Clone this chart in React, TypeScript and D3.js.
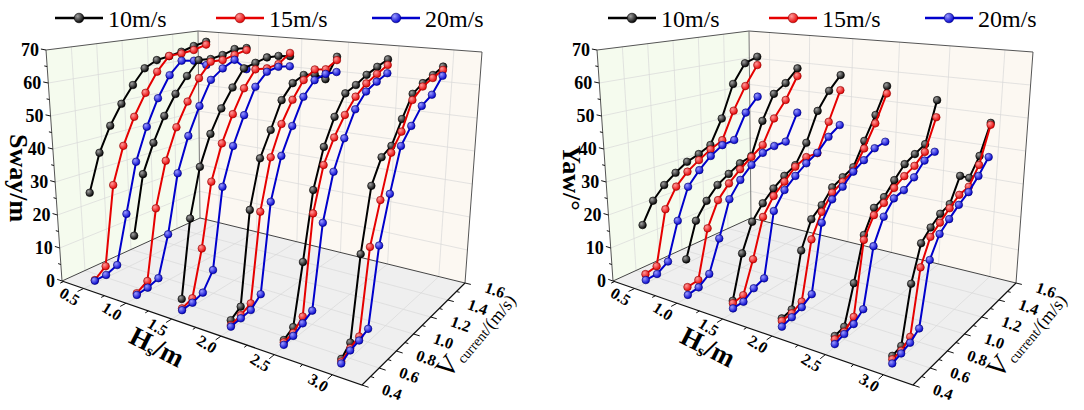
import React from "react";
import * as d3 from "d3";

// ---------------- data ----------------
const HS_LEVELS = [0.5, 1.0, 1.5, 2.0, 2.5, 3.0];
const V_CURRENT = [0.5, 0.6, 0.7, 0.8, 0.9, 1.0, 1.1, 1.2, 1.3, 1.4, 1.5];
const WIND_LABELS = ["10m/s", "15m/s", "20m/s"];

const HS_TICKS = [0.5, 1.0, 1.5, 2.0, 2.5, 3.0];
const HS_TICK_LABELS = ["0.5", "1.0", "1.5", "2.0", "2.5", "3.0"];
const V_TICKS = [0.4, 0.6, 0.8, 1.0, 1.2, 1.4, 1.6];
const V_TICK_LABELS = ["0.4", "0.6", "0.8", "1.0", "1.2", "1.4", "1.6"];
const Z_TICKS = [0, 10, 20, 30, 40, 50, 60, 70];
const Z_TICK_LABELS = ["0", "10", "20", "30", "40", "50", "60", "70"];

// Sway (m): one row per Hs level, one value per current speed
const SWAY_10 = [
  [27.4, 38.5, 45.9, 51.9, 57.1, 61.8, 63.8, 64.4, 65.2, 66.5, 67.3],
  [18.2, 35.2, 43.5, 50.7, 56.6, 61.4, 65.7, 65.2, 65.7, 66.9, 66.4],
  [3.9, 25.6, 39.4, 48.0, 54.6, 60.0, 65.0, 65.8, 66.6, 66.1, 65.0],
  [2.5, 4.4, 30.3, 43.8, 50.8, 58.5, 62.5, 63.9, 63.0, 60.2, 66.3],
  [1.9, 3.4, 19.5, 38.0, 48.8, 56.1, 61.7, 62.9, 64.7, 65.9, 67.0],
  [2.0, 4.2, 25.9, 42.7, 49.0, 50.6, 56.7, 62.5, 64.2, 65.2, 66.3],
];
const SWAY_15 = [
  [0.9, 3.5, 27.3, 38.5, 46.8, 53.7, 59.9, 64.5, 64.6, 65.1, 66.3],
  [1.2, 3.1, 23.5, 36.8, 46.1, 53.2, 59.8, 64.3, 64.0, 64.9, 65.7],
  [1.2, 2.3, 15.2, 33.6, 43.9, 51.7, 58.7, 63.7, 63.0, 63.4, 66.1],
  [1.1, 2.0, 3.4, 28.2, 42.7, 51.3, 57.4, 62.3, 64.5, 63.4, 65.2],
  [1.3, 1.8, 4.3, 31.4, 43.6, 50.1, 55.3, 59.4, 62.1, 63.7, 65.2],
  [1.3, 2.7, 3.7, 26.0, 37.1, 48.7, 53.1, 60.7, 63.2, 64.3, 65.3],
];
const SWAY_20 = [
  [0.7, 0.8, 2.2, 16.8, 32.2, 42.5, 51.0, 57.9, 62.1, 61.3, 58.9],
  [0.7, 1.1, 2.2, 14.0, 31.6, 42.2, 50.7, 58.3, 61.2, 63.2, 59.0],
  [0.7, 1.0, 2.1, 7.0, 30.6, 41.8, 50.2, 58.1, 61.9, 62.5, 61.6],
  [0.7, 1.1, 1.5, 4.1, 29.5, 41.7, 49.4, 57.1, 61.1, 61.9, 61.3],
  [0.6, 1.0, 2.4, 3.9, 27.0, 40.1, 48.4, 55.6, 59.6, 61.3, 62.6],
  [0.8, 2.1, 2.6, 3.6, 24.5, 37.1, 49.0, 53.2, 57.5, 59.3, 63.5],
];

// Yaw (deg)
const YAW_10 = [
  [17.6, 23.7, 27.3, 29.9, 32.2, 33.5, 35.3, 43.1, 54.0, 60.4, 61.9],
  [11.2, 21.2, 25.8, 29.3, 31.4, 33.4, 34.4, 44.7, 52.6, 55.2, 59.3],
  [3.4, 15.4, 23.1, 27.1, 30.1, 32.5, 34.4, 40.1, 49.1, 54.5, 58.6],
  [3.0, 3.6, 18.6, 26.0, 28.5, 32.2, 33.7, 35.2, 41.9, 48.7, 56.7],
  [3.0, 3.5, 13.6, 25.3, 31.3, 32.7, 36.0, 39.1, 40.5, 41.9, 54.1],
  [2.8, 3.3, 17.9, 27.0, 29.5, 31.5, 32.4, 38.7, 36.3, 41.0, 49.2],
];
const YAW_15 = [
  [2.7, 3.5, 19.7, 25.5, 29.0, 31.5, 33.8, 35.7, 44.7, 52.3, 58.9],
  [3.0, 3.4, 17.4, 24.6, 28.4, 31.5, 34.1, 36.7, 44.3, 49.4, 56.6],
  [2.7, 3.2, 12.0, 23.0, 27.8, 30.7, 33.9, 35.5, 35.3, 44.2, 53.5],
  [2.3, 2.5, 3.9, 20.1, 26.5, 30.6, 32.3, 34.1, 39.5, 46.0, 54.3],
  [2.1, 2.1, 4.2, 23.9, 29.2, 31.0, 33.7, 35.5, 36.9, 39.5, 48.7],
  [1.9, 2.0, 3.6, 20.4, 26.9, 29.0, 31.2, 33.2, 33.7, 38.3, 48.6],
];
const YAW_20 = [
  [0.9, 1.1, 3.3, 14.6, 24.1, 28.2, 31.6, 34.0, 34.5, 42.9, 47.5],
  [0.7, 1.2, 3.5, 12.7, 23.4, 28.1, 31.5, 34.1, 35.0, 35.1, 43.8],
  [1.2, 1.3, 3.4, 4.5, 23.2, 28.1, 31.0, 33.5, 35.4, 39.2, 41.7],
  [0.7, 1.4, 2.3, 4.1, 23.3, 28.6, 30.8, 33.8, 35.8, 38.0, 38.5],
  [0.8, 1.5, 2.2, 4.3, 20.3, 27.0, 30.6, 31.3, 33.4, 36.8, 37.8],
  [0.8, 1.3, 2.0, 3.7, 20.5, 25.8, 28.1, 30.3, 32.1, 35.0, 38.8],
];

// ---------------- styles ----------------
const COLORS = ["#000000", "#e60000", "#0000cc"];
const HIGHLIGHTS = ["#a0a0a0", "#ff9a9a", "#9a9aff"];
const DARKS = ["#000000", "#8a0000", "#00006e"];
const FONT = "Liberation Serif";

// ---------------- 3D box projection ----------------
const L = [62, 281];
const F = [362, 385];
const R = [465, 283];
const B = [200, 218];
const EL = [-16, -231];
const EF = [3, -275];
const ER = [17, -231];
const EB = [-2, -187];

const sScale = d3.scaleLinear().domain([0.23, 3.24]).range([0, 1]);
const K = 0.79;
const uOf = (hs: number) => {
  const s = sScale(hs);
  return (K * s) / (1 + (K - 1) * s);
};
const vScale = d3.scaleLinear().domain([0.4, 1.6]).range([0, 1]);
const zScale = d3.scaleLinear().domain([0, 70]).range([0, 1]);

function proj(u: number, v: number, w: number, dx: number): [number, number] {
  const bl = (a: number, b: number, c: number, d: number) =>
    (1 - u) * (1 - v) * a + u * (1 - v) * b + u * v * c + (1 - u) * v * d;
  const x = bl(L[0], F[0], R[0], B[0]) + w * bl(EL[0], EF[0], ER[0], EB[0]) + dx;
  const y = bl(L[1], F[1], R[1], B[1]) + w * bl(EL[1], EF[1], ER[1], EB[1]);
  return [x, y];
}

const poly = (pts: [number, number][]) => pts.map((p) => p.join(",")).join(" ");

function Panel({ dx, series, title, legendDx, prefix }: any) {
  const P = (u: number, v: number, w: number) => proj(u, v, w, dx);
  const line = d3.line<[number, number]>();
  const grid = "#d9d9d9";
  const gw = 0.7;
  const tf = { fontFamily: FONT };

  const leftWall = poly([P(0, 0, 0), P(0, 1, 0), P(0, 1, 1), P(0, 0, 1)]);
  const backWall = poly([P(0, 1, 0), P(1, 1, 0), P(1, 1, 1), P(0, 1, 1)]);
  const floor = poly([P(0, 0, 0), P(1, 0, 0), P(1, 1, 0), P(0, 1, 0)]);

  const gridLines: [number, number][][] = [];
  Z_TICKS.slice(1, -1).forEach((z) => {
    const w = zScale(z);
    gridLines.push([P(0, 0, w), P(0, 1, w), P(1, 1, w)]);
  });
  V_TICKS.slice(1, -1).forEach((vv) => {
    const v = vScale(vv);
    gridLines.push([P(0, v, 0), P(0, v, 1)]);
    gridLines.push([P(0, v, 0), P(1, v, 0)]);
  });
  HS_TICKS.forEach((h) => {
    const u = uOf(h);
    gridLines.push([P(u, 0, 0), P(u, 1, 0), P(u, 1, 1)]);
  });

  const hsMinor = d3.range(0.25, 3.3, 0.25).filter((h) => uOf(h) >= 0 && uOf(h) <= 1);
  const vMinor = d3.range(0.4, 1.61, 0.1);
  const zMinor = d3.range(0, 70.1, 5);

  return (
    <g>
      <defs>
        {COLORS.map((c, i) => (
          <radialGradient key={i} id={`${prefix}g${i}`} cx="35%" cy="32%" r="70%">
            <stop offset="0%" stopColor={HIGHLIGHTS[i]} />
            <stop offset="100%" stopColor={c} />
          </radialGradient>
        ))}
      </defs>
      <polygon points={leftWall} fill="#f5fbee" />
      <polygon points={backWall} fill="#fcf8f2" />
      <polygon points={floor} fill="#efefef" />
      {gridLines.map((g, i) => (
        <path key={i} d={line(g) || ""} fill="none" stroke={grid} strokeWidth={gw} />
      ))}
      {/* box edges */}
      <path d={line([P(0, 0, 0), P(0, 0, 1), P(0, 1, 1), P(1, 1, 1), P(1, 1, 0)]) || ""} fill="none" stroke="#555" strokeWidth={1} />
      <path d={line([P(0, 1, 0), P(0, 1, 1)]) || ""} fill="none" stroke="#777" strokeWidth={1} />
      <path d={line([P(0, 0, 0), P(0, 1, 0), P(1, 1, 0)]) || ""} fill="none" stroke="#444" strokeWidth={1} />
      <path d={line([P(0, 0, 0), P(1, 0, 0), P(1, 1, 0)]) || ""} fill="none" stroke="#111" strokeWidth={1.2} />

      {/* Hs axis ticks */}
      {hsMinor.map((h, i) => {
        const u = uOf(h);
        const major = Math.abs(h * 2 - Math.round(h * 2)) < 1e-6;
        const a = P(u, 0, 0);
        const b = P(u, major ? -0.045 : -0.025, 0);
        return <line key={i} x1={a[0]} y1={a[1]} x2={b[0]} y2={b[1]} stroke="#111" strokeWidth={1} />;
      })}
      {HS_TICKS.map((h, i) => {
        const p = P(uOf(h), 0, 0);
        return (
          <text key={i} transform={`translate(${p[0] - 14},${p[1] + 8}) rotate(32)`} textAnchor="middle" dominantBaseline="central" style={tf} fontWeight="bold" fontSize={16}>
            {HS_TICK_LABELS[i]}
          </text>
        );
      })}
      {/* V axis ticks */}
      {vMinor.map((vv, i) => {
        const v = vScale(vv);
        const major = i % 2 === 0;
        const a = P(1, v, 0);
        const b = P(major ? 1.022 : 1.012, v, 0);
        return <line key={i} x1={a[0]} y1={a[1]} x2={b[0]} y2={b[1]} stroke="#111" strokeWidth={1} />;
      })}
      {V_TICKS.map((vv, i) => {
        const p = P(1, vScale(vv), 0);
        return (
          <text key={i} transform={`translate(${p[0] + 30},${p[1] + 7}) rotate(20)`} textAnchor="middle" dominantBaseline="central" style={tf} fontWeight="bold" fontSize={16}>
            {V_TICK_LABELS[i]}
          </text>
        );
      })}
      {/* Z axis ticks */}
      {zMinor.map((z, i) => {
        const w = zScale(z);
        const major = i % 2 === 0;
        const a = P(0, 0, w);
        const b = P(major ? -0.016 : -0.009, 0, w);
        return <line key={i} x1={a[0]} y1={a[1]} x2={b[0]} y2={b[1]} stroke="#111" strokeWidth={1} />;
      })}
      {Z_TICKS.map((z, i) => {
        const p = P(0, 0, zScale(z));
        return (
          <text key={i} x={p[0] - 7} y={p[1] + 6} textAnchor="end" style={tf} fontWeight="bold" fontSize={18}>
            {Z_TICK_LABELS[i]}
          </text>
        );
      })}

      {/* curves */}
      {HS_LEVELS.map((hs, hi) => (
        <g key={hi}>
          {series.map((s: number[][], si: number) => {
            const pts = V_CURRENT.map((vc, k) => P(uOf(hs), vScale(vc), zScale(s[hi][k])));
            return (
              <g key={si}>
                <path d={line(pts) || ""} fill="none" stroke={COLORS[si]} strokeWidth={2} strokeLinejoin="round" />
                {pts.map((p, k) => (
                  <circle key={k} cx={p[0]} cy={p[1]} r={3.8} fill={`url(#${prefix}g${si})`} stroke={DARKS[si]} strokeWidth={0.6} />
                ))}
              </g>
            );
          })}
        </g>
      ))}

      {/* legend */}
      {WIND_LABELS.map((lab, i) => {
        const x0 = [55, 216, 372][i] + legendDx;
        return (
          <g key={i}>
            <line x1={x0} y1={18} x2={x0 + 48} y2={18} stroke={COLORS[i]} strokeWidth={2.5} />
            <circle cx={x0 + 24} cy={18} r={4.8} fill={`url(#${prefix}g${i})`} stroke={DARKS[i]} strokeWidth={0.6} />
            <text x={x0 + 53} y={27} style={tf} fontSize={24}>
              {lab}
            </text>
          </g>
        );
      })}

      {/* titles */}
      <text transform={`translate(${18 + legendDx},${178}) rotate(90)`} textAnchor="middle" dominantBaseline="central" style={tf} fontWeight="bold" fontSize={26}>
        {title}
      </text>
      <text transform={`translate(${157 + dx},347) rotate(27)`} textAnchor="middle" dominantBaseline="central" style={tf} fontWeight="bold" fontSize={27}>
        H<tspan fontSize={16} dy={6}>s</tspan>
        <tspan dy={-6}>/m</tspan>
      </text>
      <text transform={`translate(${448 + dx},380) rotate(-50)`} style={tf} fontSize={28}>
        V<tspan fontSize={14} dy={2} dx={2}>current</tspan>
        <tspan fontSize={18}>/(m/s)</tspan>
      </text>
    </g>
  );
}

export default function App() {
  return (
    <svg width={1084} height={410} style={{ position: "absolute", left: 0, top: 0, background: "#fff" }}>
      <rect width={1084} height={410} fill="#fff" />
      <Panel dx={0} legendDx={0} series={[SWAY_10, SWAY_15, SWAY_20]} title="Sway/m" prefix="a" />
      <Panel dx={551} legendDx={553} series={[YAW_10, YAW_15, YAW_20]} title="Yaw/°" prefix="b" />
    </svg>
  );
}
